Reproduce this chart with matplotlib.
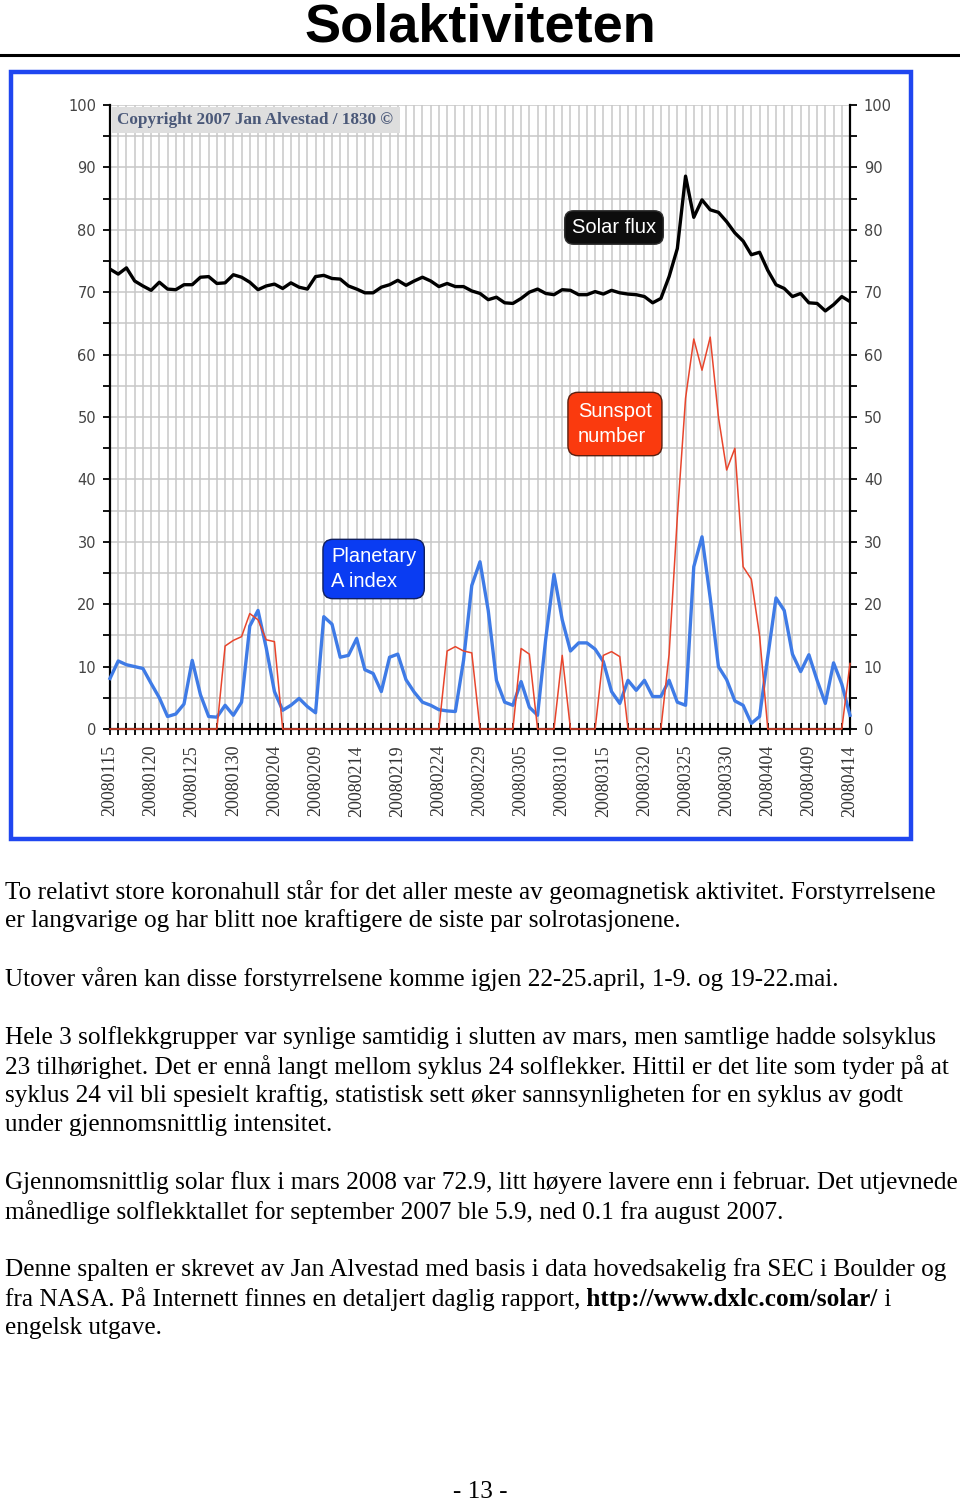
import matplotlib
matplotlib.use("Agg")
import matplotlib.pyplot as plt
from matplotlib.patches import Rectangle
from matplotlib.lines import Line2D
from matplotlib.ticker import MultipleLocator
import pandas as pd

W, H = 960, 1501

# daily values, 2008-01-15 .. 2008-04-14
dates = pd.date_range("2008-01-15", "2008-04-14", freq="D")

solar_flux = [73.7, 72.9, 73.9, 71.8, 71.0, 70.3, 71.6, 70.5, 70.4, 71.2,
              71.2, 72.4, 72.5, 71.4, 71.5, 72.8, 72.4, 71.6, 70.4, 71.0,
              71.3, 70.6, 71.5, 70.8, 70.5, 72.5, 72.7, 72.2, 72.1, 71.0,
              70.5, 69.9, 69.9, 70.8, 71.2, 71.9, 71.1, 71.8, 72.4, 71.8,
              70.9, 71.4, 70.9, 70.9, 70.2, 69.8, 68.8, 69.2, 68.3, 68.2,
              69.0, 70.0, 70.5, 69.8, 69.6, 70.4, 70.3, 69.6, 69.6, 70.1,
              69.7, 70.3, 69.9, 69.7, 69.6, 69.3, 68.3, 69.0, 72.5, 77.0,
              88.6, 82.0, 84.8, 83.2, 82.8, 81.3, 79.5, 78.2, 76.0, 76.4,
              73.5, 71.2, 70.6, 69.3, 69.8, 68.3, 68.2, 67.0, 68.0, 69.3,
              68.5]

planetary_a = [8.1, 10.9, 10.3, 10.0, 9.7, 7.3, 5.0, 2.0, 2.4, 4.0,
               11.0, 5.5, 2.0, 1.9, 3.8, 2.2, 4.3, 16.5, 19.0, 13.0,
               6.0, 3.0, 3.8, 4.9, 3.6, 2.6, 18.0, 16.8, 11.5, 11.8,
               14.5, 9.5, 8.9, 6.0, 11.5, 12.0, 7.9, 5.9, 4.3, 3.8,
               3.1, 2.9, 2.8, 11.0, 23.0, 26.8, 19.0, 7.8, 4.3, 3.8,
               7.6, 3.5, 2.2, 14.5, 24.8, 17.5, 12.5, 13.8, 13.8, 12.8,
               10.8, 6.0, 4.1, 7.8, 6.2, 7.8, 5.2, 5.2, 7.8, 4.3,
               3.8, 26.0, 30.8, 21.0, 10.0, 7.9, 4.5, 3.8, 0.9, 2.0,
               11.6, 21.0, 19.0, 12.0, 9.2, 11.9, 7.8, 4.1, 10.6, 7.2,
               2.2]

sunspot = [0, 0, 0, 0, 0, 0, 0, 0, 0, 0,
           0, 0, 0, 0, 13.3, 14.2, 14.8, 18.5, 17.5, 14.3,
           14.0, 0, 0, 0, 0, 0, 0, 0, 0, 0,
           0, 0, 0, 0, 0, 0, 0, 0, 0, 0,
           0, 12.5, 13.2, 12.5, 12.2, 0, 0, 0, 0, 0,
           12.9, 12.0, 0, 0, 0, 11.8, 0, 0, 0, 0,
           11.8, 12.4, 11.6, 0, 0, 0, 0, 0, 12.0, 34.0,
           53.0, 62.5, 57.5, 62.8, 50.0, 41.5, 45.0, 26.0, 24.0, 15.0,
           0, 0, 0, 0, 0, 0, 0, 0, 0, 0,
           10.5]

body_lines = [
    (892, "To relativt store koronahull står for det aller meste av geomagnetisk aktivitet. Forstyrrelsene"),
    (921, "er langvarige og har blitt noe kraftigere de siste par solrotasjonene."),
    (979, "Utover våren kan disse forstyrrelsene komme igjen 22-25.april, 1-9. og 19-22.mai."),
    (1038, "Hele 3 solflekkgrupper var synlige samtidig i slutten av mars, men samtlige hadde solsyklus"),
    (1067, "23 tilhørighet. Det er ennå langt mellom syklus 24 solflekker. Hittil er det lite som tyder på at"),
    (1096, "syklus 24 vil bli spesielt kraftig, statistisk sett øker sannsynligheten for en syklus av godt"),
    (1125, "under gjennomsnittlig intensitet."),
    (1183, "Gjennomsnittlig solar flux i mars 2008 var 72.9, litt høyere lavere enn i februar. Det utjevnede"),
    (1212, "månedlige solflekktallet for september 2007 ble 5.9, ned 0.1 fra august 2007."),
    (1270, "Denne spalten er skrevet av Jan Alvestad med basis i data hovedsakelig fra SEC i Boulder og"),
    (1328, "engelsk utgave."),
]
link_line = ("fra NASA. På Internett finnes en detaljert daglig rapport,",
             " http://www.dxlc.com/solar/", " i")


def fx(x):
    return x / W


def fy(y):
    return 1 - y / H


plt.rcParams['font.family'] = ['Liberation Sans', 'DejaVu Sans']
serif = ['Liberation Serif', 'DejaVu Serif']

fig = plt.figure(figsize=(9.6, 15.01), dpi=100)
page = fig.add_axes([0, 0, 1, 1], zorder=0)
page.set_axis_off()
page.set_xlim(0, 1)
page.set_ylim(0, 1)

# title and rule
page.text(0.5, fy(42), "Solaktiviteten", ha='center', va='baseline',
          fontsize=39, fontweight='bold')
page.add_line(Line2D([0, 1], [fy(55), fy(55)], color='black', lw=2.2))

# blue frame round the chart
page.add_patch(Rectangle((fx(11), fy(839)), fx(900), 767 / H, fill=False,
                         ec='#1f46f0', lw=3.2))

# chart
ax = fig.add_axes([fx(110), fy(729), (850 - 110) / W, (729 - 105) / H], zorder=1)
x = range(len(dates))
ax.plot(x, planetary_a, color='#3f7be6', lw=2.4, zorder=4, clip_on=False)
ax.plot(x, sunspot, color='#e8452c', lw=1.1, zorder=5, clip_on=False)
ax.plot(x, solar_flux, color='black', lw=2.4, zorder=4)

ax.set_xlim(0, 90)
ax.set_ylim(0, 100)
ax.set_xticks(range(0, 91, 5))
ax.set_xticklabels(dates[::5].strftime('%Y%m%d'), rotation=90,
                   family=serif, fontsize=13, color='#333333')
ax.xaxis.set_minor_locator(MultipleLocator(1))
ax.yaxis.set_major_locator(MultipleLocator(10))
ax.yaxis.set_minor_locator(MultipleLocator(5))
ax.tick_params(axis='x', which='both', direction='inout', length=9,
               width=1.3, color='black')
ax.tick_params(axis='x', which='major', pad=7)
ax.tick_params(axis='y', which='both', direction='out', length=5, width=1.3,
               left=True, right=True, labelleft=True, labelright=True,
               labelsize=10.5, labelcolor='#444444', pad=5)
for lbl in ax.get_yticklabels():
    lbl.set_fontfamily(['DejaVu Sans'])
ax.grid(which='both', color='#c8c8c8', lw=1.1)
ax.set_axisbelow(True)
ax.spines['top'].set_visible(False)
for side in ('left', 'right', 'bottom'):
    ax.spines[side].set_linewidth(1.6)

# copyright strip (drawn on the chart axes, placed in figure pixels)
ax.add_patch(Rectangle((fx(112), fy(133)), fx(288), 26 / H,
                       transform=fig.transFigure, fc='#dedede', ec='none',
                       zorder=2, clip_on=False))
ax.text(fx(117), fy(120), "Copyright 2007 Jan Alvestad / 1830 ©",
        transform=fig.transFigure, ha='left', va='center', family=serif,
        fontsize=12.3, fontweight='bold', color='#4a5878', zorder=3)

# series labels
ax.text(fx(614), fy(227.5), "Solar flux", transform=fig.transFigure,
        ha='center', va='center', color='white', fontsize=14.5, zorder=6,
        bbox=dict(boxstyle='round,pad=0.36,rounding_size=0.45',
                  fc='#0d0d0d', ec='#333333', lw=1))
ax.text(fx(578), fy(424), "Sunspot\nnumber", transform=fig.transFigure,
        ha='left', va='center', color='white', fontsize=14.5,
        linespacing=1.35, zorder=6,
        bbox=dict(boxstyle='round,pad=0.5,rounding_size=0.5',
                  fc='#fa3a0e', ec='#5a2010', lw=1))
ax.text(fx(331), fy(569), "Planetary\nA index", transform=fig.transFigure,
        ha='left', va='center', color='white', fontsize=14.5,
        linespacing=1.35, zorder=6,
        bbox=dict(boxstyle='round,pad=0.4,rounding_size=0.5',
                  fc='#0a3cf2', ec='#102060', lw=1))

# body text
body_size = 18.2
for y, line in body_lines:
    page.text(fx(5), fy(y), line, ha='left', va='center', family=serif,
              fontsize=body_size)

t1 = page.text(fx(5), fy(1299), link_line[0], ha='left', va='center',
               family=serif, fontsize=body_size)
t2 = page.annotate(link_line[1], xy=(1, 0), xycoords=t1, ha='left',
                   va='bottom', family=serif, fontsize=body_size,
                   fontweight='bold')
page.annotate(link_line[2], xy=(1, 0), xycoords=t2, ha='left', va='bottom',
              family=serif, fontsize=body_size)

page.text(0.5, fy(1492), "- 13 -", ha='center', va='center', family=serif,
          fontsize=body_size)

fig.savefig("out.png", dpi=100)
